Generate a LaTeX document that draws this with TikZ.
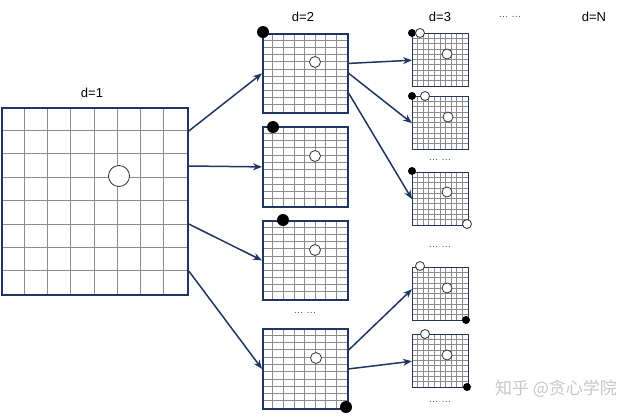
\documentclass[tikz,border=0pt]{standalone}
\usepackage{fontspec}
\setmainfont{Liberation Sans}
\newfontfamily\cjk{Noto Sans CJK SC}
\usetikzlibrary{arrows.meta}

\definecolor{navy}{RGB}{31,54,98}

%% board: name, left, top, width, height, columns, rows
\newcommand{\board}[7]{%
  \foreach \i in {1,...,#6}{
    \pgfmathsetmacro{\bdx}{#2+\i*#4/#6}
    \draw[gl] (\bdx,#3) -- (\bdx,#3+#5);
  }
  \foreach \j in {1,...,#7}{
    \pgfmathsetmacro{\bdy}{#3+\j*#5/#7}
    \draw[gl] (#2,\bdy) -- (#2+#4,\bdy);
  }
  \node[brd,minimum width=#4pt,minimum height=#5pt,anchor=north west] (#1) at (#2,#3) {};
}

\begin{document}
\begin{tikzpicture}[x=1pt,y=-1pt,>=Stealth,
  brd/.style={draw=navy,line width=1.8pt,inner sep=0pt},
  gl/.style={line width=0.7pt,black!45},
  arr/.style={navy,line width=1.5pt,-{Stealth[length=9pt,width=7pt]}},
  blk/.style={circle,fill=black,inner sep=0pt},
  wht/.style={circle,draw=black!80,fill=white,line width=0.8pt,inner sep=0pt},
  lbl/.style={font=\fontsize{13}{15}\selectfont},
  dts/.style={font=\fontsize{10}{12}\selectfont,black!70},
]
\useasboundingbox (0,0) rectangle (640,416);

%% ---- d=1 ----
\board{g1}{1}{107}{186}{187}{8}{8}
\node[wht,minimum size=21pt] (c1) at (119,176) {};
\node[lbl] (t1) at (92,93) {d=1};

%% ---- d=2 ----
\board{g2a}{262}{33}{85}{79}{8}{11}
\board{g2b}{262}{126}{85}{80}{8}{11}
\board{g2c}{262}{220}{85}{79}{8}{11}
\board{g2d}{262}{328}{85}{80}{8}{11}

\node[blk,minimum size=12pt] (b2a) at (263,32) {};
\node[wht,minimum size=11pt] (w2a) at (315,62) {};
\node[blk,minimum size=12pt] (b2b) at (273,127) {};
\node[wht,minimum size=11pt] (w2b) at (315,156) {};
\node[blk,minimum size=12pt] (b2c) at (283,220) {};
\node[wht,minimum size=11pt] (w2c) at (315,250) {};
\node[blk,minimum size=12pt] (b2d) at (346,407) {};
\node[wht,minimum size=11pt] (w2d) at (316,358) {};

\node[lbl] (t2) at (303,17) {d=2};
\node[dts] (m2) at (305,313) {… …};

%% ---- d=3 ----
\tikzset{brd/.append style={line width=1.4pt}}
\board{g3a}{412}{33}{56}{53}{10}{10}
\board{g3b}{412}{96}{56}{53}{10}{10}
\board{g3c}{412}{172}{56}{53}{10}{10}
\board{g3d}{412}{267}{56}{53}{10}{10}
\board{g3e}{412}{334}{56}{53}{10}{10}

\node[blk,minimum size=8pt] (b3a) at (412,33) {};
\node[wht,minimum size=9pt] (w3a) at (420,33) {};
\node[wht,minimum size=10pt] (c3a) at (447,54) {};
\node[blk,minimum size=8pt] (b3b) at (412,96) {};
\node[wht,minimum size=9pt] (w3b) at (425,96) {};
\node[wht,minimum size=10pt] (c3b) at (448,117) {};
\node[blk,minimum size=8pt] (b3c) at (412,171) {};
\node[wht,minimum size=9pt] (w3c) at (467,224) {};
\node[wht,minimum size=10pt] (c3c) at (447,192) {};
\node[wht,minimum size=9pt] (w3d) at (420,266) {};
\node[blk,minimum size=8pt] (b3d) at (466,320) {};
\node[wht,minimum size=10pt] (c3d) at (447,288) {};
\node[wht,minimum size=9pt] (w3e) at (425,334) {};
\node[blk,minimum size=8pt] (b3e) at (467,387) {};
\node[wht,minimum size=10pt] (c3e) at (447,355) {};

\node[lbl] (t3) at (440,17) {d=3};
\node[dts] (m3a) at (440,160) {… …};
\node[dts] (m3b) at (440,247) {… …};
\node[dts] (m3c) at (440,402) {… …};

%% ---- further depths ----
\node[dts] (mt) at (510,17) {… …};
\node[lbl] (tN) at (594,17) {d=N};

%% ---- expansion arrows ----
\draw[arr] ([yshift=-24pt]g1.north east) -- (g2a.west);
\draw[arr] ([yshift=-59pt]g1.north east) -- (g2b.west);
\draw[arr] ([yshift=-117pt]g1.north east) -- (g2c.west);
\draw[arr] ([yshift=-164pt]g1.north east) -- (g2d.west);

\draw[arr] ([yshift=10pt]g2a.east) -- (g3a.west);
\draw[arr] (g2a.east) -- (g3b.west);
\draw[arr] ([yshift=-20pt]g2a.east) -- (g3c.west);
\draw[arr] ([yshift=19pt]g2d.east) -- ([yshift=5pt]g3d.west);
\draw[arr] (g2d.east) -- (g3e.west);

%% watermark
\node[font=\cjk\fontsize{17}{19}\selectfont,black!22] (wm) at (556,389) {知乎 @贪心学院};

\end{tikzpicture}
\end{document}
